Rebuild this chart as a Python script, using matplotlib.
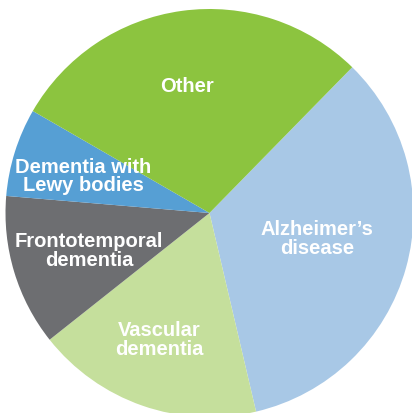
import matplotlib
matplotlib.use("Agg")
import matplotlib.pyplot as plt

# slice data (percent of dementia cases), clockwise from upper right
labels = ["Alzheimer\u2019s\ndisease", "Vascular\ndementia", "Frontotemporal\ndementia",
          "Dementia with\nLewy bodies", "Other"]
shares = [34, 18, 12, 7, 29]
colors = ["#a8c8e6", "#c5df9c", "#6d6e71", "#569fd4", "#8cc43f"]

# label centres in pie units (radius = 1)
label_pos = [(0.527, -0.127), (-0.248, -0.623), (-0.591, -0.186),
             (-0.618, 0.178), (-0.110, 0.618)]

W, H = 412, 413
cx, cy, r = 209.5, 213.0, 204.0

fig = plt.figure(figsize=(W / 100, H / 100), dpi=100)
ax = fig.add_axes([0, 0, 1, 1])
ax.pie(shares, colors=colors, startangle=45.6, counterclock=False,
       radius=1, wedgeprops=dict(linewidth=0))

for text, (x, y) in zip(labels, label_pos):
    ax.text(x, y, text, ha="center", va="center", color="white",
            fontsize=14.5, fontweight="bold", family="Liberation Sans",
            linespacing=0.95)

ax.set_aspect("auto")
ax.set_xlim(-cx / r, (W - cx) / r)
ax.set_ylim(-(H - cy) / r, cy / r)
ax.axis("off")

fig.savefig("out.png", dpi=100)
